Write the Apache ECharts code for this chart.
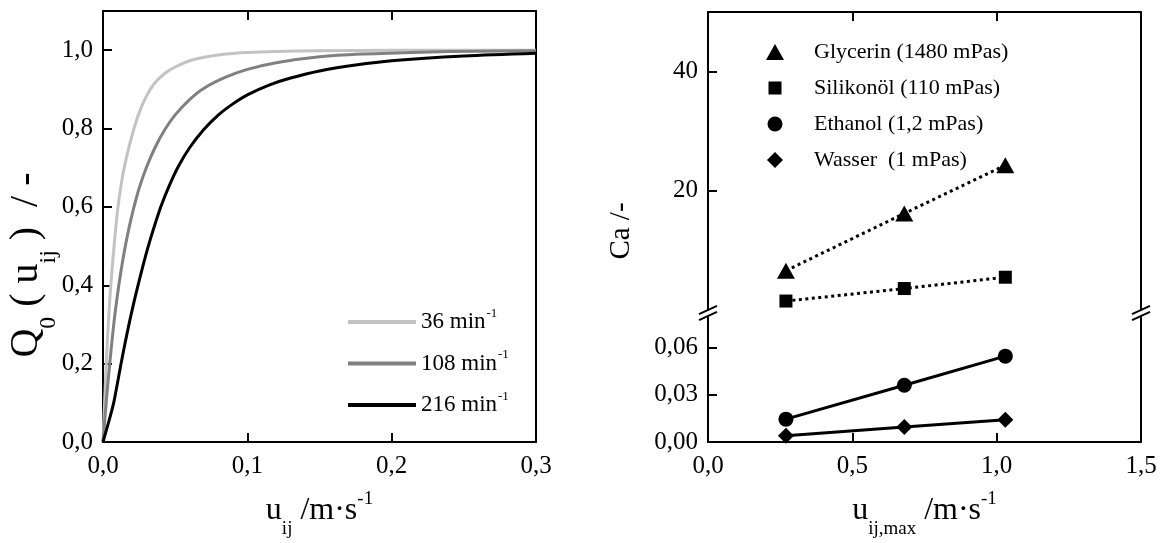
<!DOCTYPE html>
<html>
<head>
<meta charset="utf-8">
<script src="https://cdn.jsdelivr.net/npm/echarts@6/dist/echarts.min.js"></script>
<style>
  html, body { margin: 0; padding: 0; background: #fff; }
  #chart { width: 1160px; height: 543px; }
</style>
</head>
<body>
<div id="chart"></div>
<script>
// ---- Left panel: cumulative velocity distribution Q0(u_ij) per stirrer speed ----
const speedNames = ['36 min', '108 min', '216 min'];
const speedColors = ['#c3c3c3', '#808080', '#000000'];
const curve36 = [[0,0],[0.002,0.181],[0.004,0.323],[0.006,0.429],[0.008,0.513],[0.010,0.589],
  [0.013,0.667],[0.016,0.722],[0.020,0.781],[0.025,0.840],[0.030,0.882],[0.036,0.917],
  [0.043,0.941],[0.050,0.957],[0.060,0.973],[0.070,0.982],[0.085,0.990],[0.100,0.994],
  [0.120,0.9967],[0.150,0.9985],[0.200,1.0],[0.300,1.0]];
const curve108 = [[0,0],[0.0025,0.113],[0.005,0.213],[0.0075,0.302],[0.010,0.375],[0.0125,0.437],
  [0.015,0.491],[0.018,0.546],[0.021,0.593],[0.025,0.647],[0.030,0.700],[0.036,0.751],
  [0.043,0.798],[0.050,0.835],[0.060,0.874],[0.070,0.903],[0.085,0.931],[0.100,0.951],
  [0.120,0.968],[0.150,0.983],[0.180,0.990],[0.220,0.995],[0.260,0.9975],[0.300,0.9986]];
const curve216 = [[0,0],[0.0037,0.048],[0.0074,0.100],[0.010,0.150],[0.0123,0.196],[0.015,0.247],
  [0.0178,0.297],[0.021,0.350],[0.024,0.396],[0.0275,0.447],[0.031,0.495],[0.035,0.544],
  [0.040,0.600],[0.046,0.655],[0.052,0.702],[0.060,0.751],[0.070,0.798],[0.080,0.835],
  [0.090,0.863],[0.100,0.886],[0.115,0.911],[0.130,0.929],[0.150,0.947],[0.175,0.962],
  [0.200,0.973],[0.250,0.985],[0.300,0.992]];
const leftXTicks = [0, 0.1, 0.2, 0.3];
const leftYTicks = [0, 0.2, 0.4, 0.6, 0.8, 1.0];

// ---- Right panel: capillary number Ca versus maximum velocity ----
const fluidNames = ['Glycerin (1480 mPas)', 'Silikonöl (110 mPas)', 'Ethanol (1,2 mPas)', 'Wasser  (1 mPas)'];
const uMax = [0.27, 0.68, 1.03];
const caGlycerin = [6.6, 16.2, 24.3];
const caSilikonoel = [1.5, 3.6, 5.5];
const caEthanol = [0.0145, 0.036, 0.0545];
const caWasser = [0.004, 0.0095, 0.0141];
const rightXTicks = [0, 0.5, 1.0, 1.5];
const upperYTicks = [20, 40];
const lowerYTicks = [0, 0.03, 0.06];

// ---- layout ----
const FONT = '"Liberation Serif", "Times New Roman", Times, serif';
const GL = { left: 103, top: 11, width: 433, height: 431 };   // left panel
const GU = { left: 708, top: 12, width: 433, height: 298 };   // right panel, upper part
const GB = { left: 708, top: 316, width: 433, height: 126 };  // right panel, lower part

const comma = d => v => v.toFixed(d).replace('.', ',');
const pairs = (xs, ys) => xs.map((x, i) => [x, ys[i]]);

const lineStyleAxis = { color: '#000', width: 2 };
function axis(extra, ticks, labels) {
  const a = {
    type: 'value',
    axisLine: { show: true, onZero: false, lineStyle: lineStyleAxis },
    axisTick: { show: false },
    axisLabel: { show: false },
    splitLine: { show: false }
  };
  if (ticks) a.axisTick = Object.assign({ show: true, inside: true, length: 9, lineStyle: lineStyleAxis }, ticks);
  if (labels) a.axisLabel = Object.assign({ show: true, color: '#000', fontFamily: FONT, fontSize: 25 }, labels);
  return Object.assign(a, extra);
}

const xAxes = [
  axis({ gridIndex: 0, position: 'bottom', min: 0, max: 0.3 },
       { customValues: leftXTicks }, { customValues: leftXTicks, formatter: comma(1), margin: 12 }),
  axis({ gridIndex: 0, position: 'top', min: 0, max: 0.3 }, { customValues: leftXTicks }),
  axis({ gridIndex: 1, position: 'top', min: 0, max: 1.5 }, { customValues: rightXTicks }),
  axis({ gridIndex: 2, position: 'bottom', min: 0, max: 1.5 },
       { customValues: rightXTicks }, { customValues: rightXTicks, formatter: comma(1), margin: 12 })
];
const yAxes = [
  axis({ gridIndex: 0, position: 'left', min: 0, max: 1.1 },
       { customValues: leftYTicks }, { customValues: leftYTicks, formatter: comma(1), margin: 10 }),
  axis({ gridIndex: 0, position: 'right', min: 0, max: 1.1 }),
  axis({ gridIndex: 1, position: 'left', min: 0, max: 50 },
       { customValues: upperYTicks }, { customValues: upperYTicks, formatter: v => String(v), margin: 10 }),
  axis({ gridIndex: 1, position: 'right', min: 0, max: 50 }),
  axis({ gridIndex: 2, position: 'left', min: 0, max: 0.08 },
       { customValues: lowerYTicks }, { customValues: lowerYTicks, formatter: comma(2), margin: 10 }),
  axis({ gridIndex: 2, position: 'right', min: 0, max: 0.08 })
];

// ---- series ----
const curves = [curve36, curve108, curve216];
const leftSeries = curves.map((c, i) => ({
  name: speedNames[i], type: 'line', xAxisIndex: 0, yAxisIndex: 0,
  data: c, showSymbol: false, symbol: 'none', smooth: 0.3,
  color: speedColors[i], lineStyle: { color: speedColors[i], width: 3 }, z: 3 + i
}));

const dotted = { color: '#000', width: 3, type: [3, 3.5] };
const solid = { color: '#000', width: 3 };
const rightSeries = [
  { name: fluidNames[0], data: pairs(uMax, caGlycerin), xAxisIndex: 2, yAxisIndex: 2,
    symbol: 'triangle', symbolSize: [18, 16], lineStyle: dotted },
  { name: fluidNames[1], data: pairs(uMax, caSilikonoel), xAxisIndex: 2, yAxisIndex: 2,
    symbol: 'rect', symbolSize: 13, lineStyle: dotted },
  { name: fluidNames[2], data: pairs(uMax, caEthanol), xAxisIndex: 3, yAxisIndex: 4,
    symbol: 'circle', symbolSize: 15, lineStyle: solid },
  { name: fluidNames[3], data: pairs(uMax, caWasser), xAxisIndex: 3, yAxisIndex: 4,
    symbol: 'diamond', symbolSize: [16, 16], lineStyle: solid }
].map(s => Object.assign({ type: 'line', color: '#000', itemStyle: { color: '#000' },
  showSymbol: true, z: 5 }, s));

// ---- legends ----
const legendLeft = {
  data: speedNames, orient: 'vertical', left: 348, top: 307, padding: 0, itemGap: 15,
  itemWidth: 68, itemHeight: 4, icon: 'rect', selectedMode: false,
  itemStyle: { borderWidth: 0 },
  formatter: n => `{m|${n}}{s|-1}`,
  textStyle: {
    color: '#000', fontFamily: FONT,
    rich: {
      m: { fontSize: 23, lineHeight: 30, fontFamily: FONT, color: '#000' },
      s: { fontSize: 13, verticalAlign: 'top', fontFamily: FONT, color: '#000', padding: [0, 0, 0, 1] }
    }
  }
};
const rightIcons = ['triangle', 'rect', 'circle', 'diamond'];
const rightIconSize = [[18, 16], [13, 13], [15, 15], [16, 16]];
const legendRows = [52, 88, 124, 160];
const legendRight = fluidNames.map((n, i) => ({
  data: [{ name: n, icon: rightIcons[i] }], left: 775 - rightIconSize[i][0] / 2,
  top: legendRows[i] - 11, padding: 0, selectedMode: false,
  itemWidth: rightIconSize[i][0], itemHeight: rightIconSize[i][1],
  itemStyle: { borderWidth: 0 }, lineStyle: { width: 0 },
  textStyle: { color: '#000', fontFamily: FONT, fontSize: 22, lineHeight: 22,
    padding: [0, 0, 0, 814 - (775 + rightIconSize[i][0] / 2 + 5)] }
}));

// ---- axis titles and axis-break marks ----
function titleRich(size, gap) {
  const s = size / 32;
  const base = { fontFamily: FONT, color: '#000' };
  return {
    m: Object.assign({ fontSize: size, lineHeight: 56 * s }, base),
    mg: Object.assign({ fontSize: size, lineHeight: 56 * s, padding: [0, 0, 0, gap || 0] }, base),
    sub: Object.assign({ fontSize: 19 * s, verticalAlign: 'bottom' }, base),
    sup: Object.assign({ fontSize: 19 * s, verticalAlign: 'top', padding: [7 * s, 0, 0, 0] }, base)
  };
}
function title(text, x, y, rotated, size, gap) {
  return { type: 'text', x, y, rotation: rotated ? Math.PI / 2 : 0, z: 10,
    style: { text, rich: titleRich(size, gap), align: 'center', verticalAlign: 'middle', fill: '#000' } };
}
function breakMark(x, y) {
  return { type: 'line', z: 10, shape: { x1: x - 9, y1: y + 4.2, x2: x + 9, y2: y - 4.2 },
    style: { stroke: '#000', lineWidth: 2 } };
}
const breakXs = [GU.left, GU.left + GU.width];
const breakYs = [GU.top + GU.height, GB.top];
const graphics = [
  title('{m|u}{sub|ij}{m| /m·s}{sup|-1}', GL.left + GL.width / 2, 511, false, 32),
  title('{m|u}{sub|ij,max}{m| /m·s}{sup|-1}', GU.left + GU.width / 2, 511, false, 32),
  title('{m|Q}{sub|0}{mg|(}{mg|u}{sub|ij}{mg|)}{mg| /}{mg|-}', 26, 265, true, 40, 10),
  title('{m|Ca /-}', 621, 231, true, 29)
];
breakXs.forEach(x => breakYs.forEach(y => graphics.push(breakMark(x, y))));

const chart = echarts.init(document.getElementById('chart'), null, { renderer: 'canvas' });
chart.setOption({
  backgroundColor: '#fff',
  animation: false,
  grid: [GL, GU, GB].map(g => Object.assign({ containLabel: false, show: false }, g)),
  xAxis: xAxes,
  yAxis: yAxes,
  legend: [legendLeft].concat(legendRight),
  series: leftSeries.concat(rightSeries),
  graphic: graphics
});
</script>
</body>
</html>
